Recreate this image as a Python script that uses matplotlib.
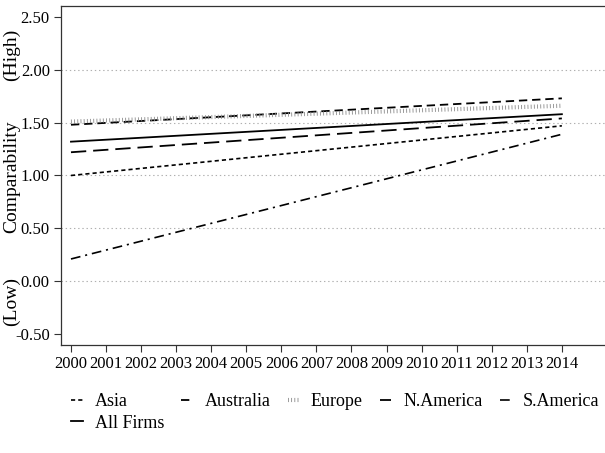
import matplotlib
matplotlib.use("Agg")
import matplotlib.pyplot as plt

plt.rcParams['font.family'] = ['Liberation Serif', 'DejaVu Serif']
plt.rcParams['lines.scale_dashes'] = False

# Data (fitted linear trends: values at first and last year)
years = [2000, 2014]
asia = [1.00, 1.47]
australia = [1.48, 1.73]
europe = [1.51, 1.66]
n_america = [1.22, 1.54]
s_america = [0.21, 1.39]
all_firms = [1.32, 1.58]

xtick_years = list(range(2000, 2015))
ytick_vals = [-0.5, 0.0, 0.5, 1.0, 1.5, 2.0, 2.5]
grid_levels = [0.0, 0.5, 1.0, 1.5, 2.0]

fig = plt.figure(figsize=(6.05, 4.53), dpi=100)
ax = fig.add_axes([0.1008, 0.2384, 0.8992, 0.7484])

for g in grid_levels:
    ax.axhline(g, color='#b0b0b0', lw=0.8, ls=(0, (1, 2)), zorder=0)

h_asia, = ax.plot(years, asia, color='black', lw=1.2, ls=(0, (3, 2.2)), label='Asia')
h_aus, = ax.plot(years, australia, color='black', lw=1.3, ls=(0, (6, 3.5)), label='Australia')
h_eur, = ax.plot(years, europe, color='#8a8a8a', lw=3.0, ls=(0, (0.6, 1.7)),
                 dash_capstyle='butt', label='Europe')
h_na, = ax.plot(years, n_america, color='black', lw=1.3, ls=(0, (11, 5)), label='N.America')
h_sa, = ax.plot(years, s_america, color='black', lw=1.2, ls=(0, (7, 3.5, 1.5, 3.5)), label='S.America')
h_all, = ax.plot(years, all_firms, color='black', lw=1.3, ls='-', label='All Firms')

ax.set_xlim(1999.715, 2015.23)
ax.set_ylim(-0.604, 2.604)
ax.set_xticks(xtick_years)
ax.set_xticklabels([str(y) for y in xtick_years], fontsize=12)
ax.set_yticks(ytick_vals)
ax.set_yticklabels([f"{v:.2f}" for v in ytick_vals], fontsize=12)
ax.tick_params(direction='out', length=5, width=0.8, color='#333333', pad=3)
ax.spines['right'].set_visible(False)
for s in ['left', 'bottom', 'top']:
    ax.spines[s].set_linewidth(0.9)
    ax.spines[s].set_color('#333333')

fig.text(0.019, 1 - 55 / 453, '(High)', rotation=90, ha='center', va='center', fontsize=14)
fig.text(0.019, 1 - 177 / 453, 'Comparability', rotation=90, ha='center', va='center', fontsize=14)
fig.text(0.019, 1 - 302 / 453, '(Low)', rotation=90, ha='center', va='center', fontsize=14)

# order so that column-major filling yields row 1: Asia..S.America, row 2: All Firms
handles = [h_asia, h_all, h_aus, h_eur, h_na, h_sa]
labels = [h.get_label() for h in handles]
fig.legend(handles, labels, loc='upper left', bbox_to_anchor=(0.118, 0.132),
           bbox_transform=fig.transFigure,
           ncol=5, frameon=False, fontsize=13, handlelength=0.62, handletextpad=0.67,
           columnspacing=0.95, labelspacing=0.25, borderaxespad=0, borderpad=0)

fig.savefig('out.png', dpi=100)
